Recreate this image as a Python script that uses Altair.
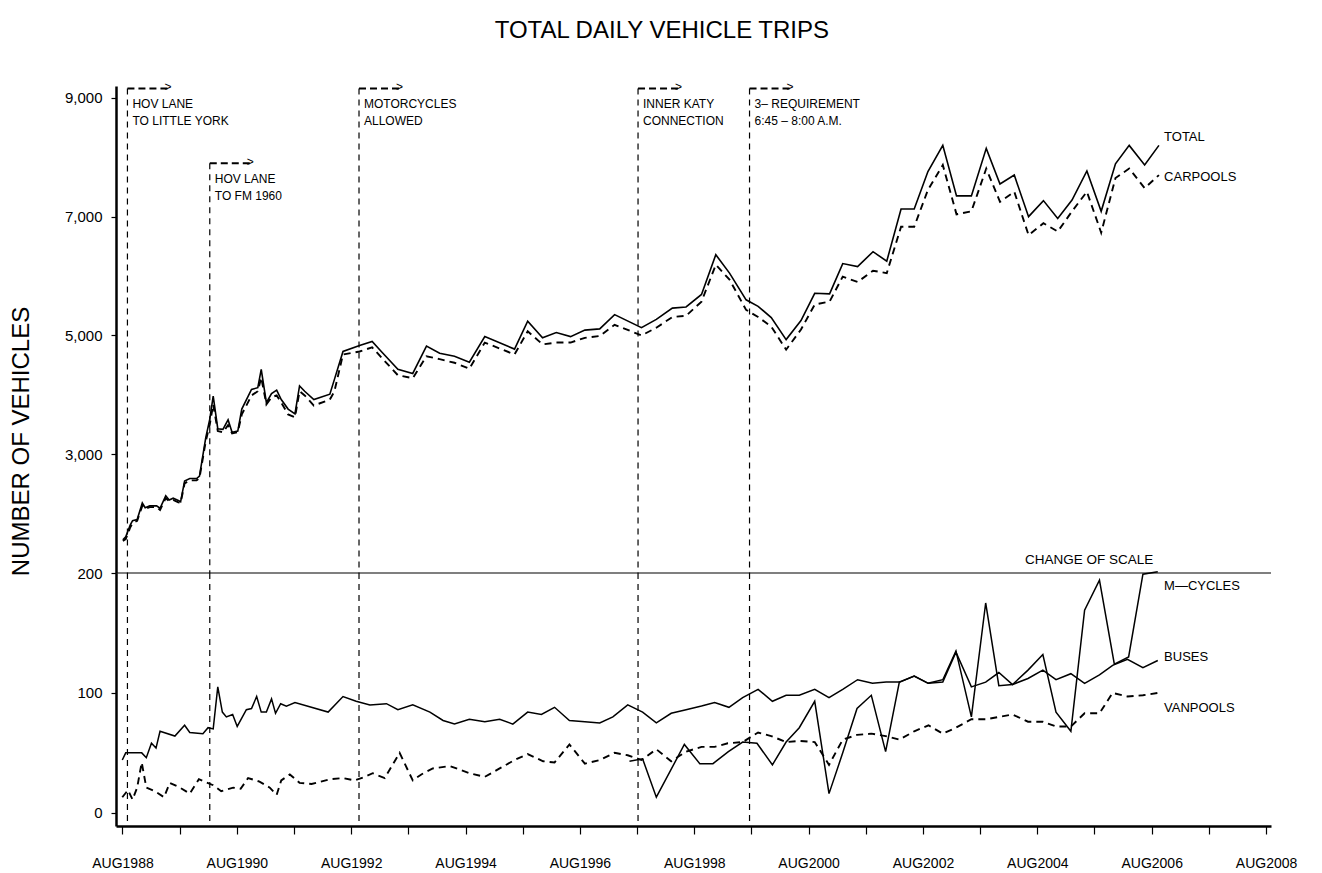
import altair as alt
import pandas as pd

FONT = "Liberation Sans"

# ---------------- data ----------------
# upper panel: decimal year, TOTAL and CARPOOLS (vehicles)
upper_dates = [1988.59, 1988.64, 1988.72, 1988.76, 1988.84, 1988.93, 1988.98, 1989.06, 1989.18, 1989.24,
               1989.34, 1989.40, 1989.47, 1989.56, 1989.60, 1989.67, 1989.76, 1989.88, 1989.93, 1990.04,
               1990.11, 1990.17, 1990.25, 1990.34, 1990.43, 1990.50, 1990.60, 1990.67, 1990.84, 1990.95,
               1991.01, 1991.10, 1991.19, 1991.28, 1991.36, 1991.48, 1991.60, 1991.68, 1991.77, 1991.93,
               1992.21, 1992.29, 1992.44, 1992.73, 1992.95, 1993.11, 1993.40, 1993.66, 1993.90, 1994.13,
               1994.39, 1994.65, 1994.92, 1995.44, 1995.67, 1995.93, 1996.17, 1996.42, 1996.67, 1996.93,
               1997.19, 1997.66, 1997.92, 1998.20, 1998.44, 1998.71, 1998.96, 1999.20, 1999.49, 1999.70,
               1999.93, 2000.19, 2000.45, 2000.69, 2000.95, 2001.18, 2001.44, 2001.71, 2001.95, 2002.20,
               2002.43, 2002.67, 2002.93, 2003.17, 2003.43, 2003.69, 2003.93, 2004.18, 2004.43, 2004.69,
               2004.94, 2005.19, 2005.45, 2005.70, 2005.95, 2006.19, 2006.46, 2006.71]
total = [1560, 1610, 1810, 1880, 1900, 2180, 2100, 2130, 2130, 2090,
         2300, 2230, 2260, 2220, 2200, 2550, 2590, 2590, 2630, 3280,
         3590, 3980, 3430, 3420, 3580, 3370, 3390, 3760, 4090, 4120,
         4430, 3870, 4020, 4080, 3920, 3760, 3680, 4150, 4060, 3920,
         4010, 4260, 4730, 4830, 4900, 4730, 4430, 4360, 4820, 4700,
         4650, 4550, 4980, 4770, 5240, 4960, 5050, 4980, 5090, 5110,
         5350, 5130, 5270, 5460, 5480, 5690, 6360, 6050, 5600, 5490,
         5300, 4930, 5250, 5710, 5700, 6210, 6160, 6410, 6250, 7130,
         7130, 7760, 8200, 7350, 7350, 8150, 7550, 7700, 7000, 7270,
         6970, 7280, 7770, 7090, 7890, 8200, 7870, 8200]
carpools = [1540, 1570, 1770, 1840, 1880, 2130, 2080, 2110, 2110, 2060,
            2260, 2210, 2230, 2190, 2180, 2510, 2560, 2560, 2600, 3220,
            3500, 3840, 3390, 3370, 3490, 3350, 3370, 3670, 3990, 4060,
            4290, 3840, 3960, 3990, 3870, 3670, 3620, 4060, 3990, 3820,
            3920, 4060, 4680, 4730, 4800, 4630, 4330, 4280, 4650, 4600,
            4540, 4440, 4880, 4680, 5070, 4850, 4880, 4880, 4960, 4990,
            5180, 5000, 5130, 5310, 5330, 5570, 6190, 5940, 5430, 5310,
            5150, 4760, 5100, 5520, 5570, 5990, 5900, 6090, 6050, 6830,
            6830, 7450, 7870, 7040, 7090, 7810, 7250, 7420, 6690, 6890,
            6750, 7090, 7420, 6730, 7650, 7810, 7480, 7700]

# lower panel
bus_dates = [1988.58, 1988.64, 1988.92, 1989.00, 1989.09, 1989.17, 1989.24, 1989.50, 1989.67, 1989.76,
             1989.99, 1990.08, 1990.17, 1990.25, 1990.33, 1990.40, 1990.51, 1990.59, 1990.75, 1990.84,
             1990.93, 1991.01, 1991.10, 1991.19, 1991.26, 1991.35, 1991.45, 1991.60, 1992.18, 1992.44,
             1992.67, 1992.91, 1993.20, 1993.40, 1993.66, 1993.96, 1994.19, 1994.39, 1994.65, 1994.92,
             1995.18, 1995.41, 1995.67, 1995.91, 1996.14, 1996.40, 1996.67, 1996.93, 1997.16, 1997.42,
             1997.68, 1997.92, 1998.18, 1998.44, 1998.71, 1998.94, 1999.19, 1999.43, 1999.70, 1999.95,
             2000.19, 2000.42, 2000.69, 2000.94, 2001.18, 2001.44, 2001.70, 2001.94, 2002.18, 2002.43,
             2002.68, 2002.93, 2003.16, 2003.43, 2003.68, 2003.91, 2004.15, 2004.42, 2004.68, 2004.91,
             2005.17, 2005.41, 2005.67, 2005.90, 2006.16, 2006.43, 2006.69]
buses = [44, 50, 50, 46, 58, 54, 68, 64, 73, 67,
         66, 71, 70, 105, 84, 80, 82, 72, 86, 87,
         97, 84, 84, 95, 83, 91, 89, 92, 84, 97,
         93, 90, 91, 86, 90, 84, 77, 74, 78, 76,
         78, 74, 84, 82, 88, 77, 76, 75, 80, 90,
         84, 75, 83, 86, 89, 92, 88, 96, 103, 93,
         98, 98, 103, 96, 103, 111, 108, 109, 109, 114,
         108, 109, 134, 105, 109, 117, 107, 112, 119, 111,
         116, 108, 115, 123, 128, 121, 127]

van_dates = [1988.58, 1988.68, 1988.76, 1988.84, 1988.92, 1989.00, 1989.15, 1989.31, 1989.41, 1989.59,
             1989.76, 1989.92, 1990.17, 1990.31, 1990.52, 1990.65, 1990.78, 1990.98, 1991.16, 1991.28,
             1991.36, 1991.51, 1991.68, 1991.89, 1992.21, 1992.44, 1992.64, 1992.82, 1992.96, 1993.17,
             1993.43, 1993.66, 1993.81, 1994.01, 1994.31, 1994.65, 1994.92, 1995.18, 1995.44, 1995.67,
             1995.94, 1996.14, 1996.40, 1996.67, 1996.93, 1997.19, 1997.42, 1997.66, 1997.92, 1998.18,
             1998.44, 1998.71, 1998.94, 1999.17, 1999.43, 1999.70, 1999.93, 2000.19, 2000.42, 2000.69,
             2000.94, 2001.18, 2001.43, 2001.68, 2001.93, 2002.17, 2002.43, 2002.68, 2002.93, 2003.16,
             2003.43, 2003.68, 2003.91, 2004.15, 2004.42, 2004.68, 2004.91, 2005.17, 2005.41, 2005.67,
             2005.90, 2006.16, 2006.43, 2006.69]
vanpools = [13, 19, 11, 21, 42, 21, 18, 13, 25, 21,
            16, 28, 23, 18, 21, 20, 29, 26, 21, 15,
            27, 32, 25, 24, 28, 29, 27, 30, 33, 29,
            50, 27, 32, 37, 39, 33, 30, 37, 44, 49,
            43, 42, 57, 41, 44, 50, 48, 44, 53, 43,
            51, 55, 55, 58, 59, 67, 64, 59, 60, 59,
            40, 61, 65, 66, 64, 61, 68, 73, 66, 71,
            78, 78, 80, 82, 76, 76, 72, 72, 83, 83,
            100, 97, 98, 100]

mc_dates = [1997.45, 1997.68, 1997.92, 1998.41, 1998.68, 1998.91, 1999.18, 1999.43, 1999.68, 1999.95,
            2000.19, 2000.42, 2000.69, 2000.94, 2001.18, 2001.43, 2001.68, 2001.93, 2002.17, 2002.43,
            2002.67, 2002.93, 2003.16, 2003.43, 2003.68, 2003.91, 2004.15, 2004.42, 2004.68, 2004.91,
            2005.17, 2005.41, 2005.67, 2005.93, 2006.18, 2006.43, 2006.69]
mcycles = [43, 45, 13, 57, 41, 41, 51, 59, 58, 40,
           59, 71, 93, 16, 50, 87, 98, 51, 109, 114,
           108, 111, 135, 80, 175, 106, 107, 119, 132, 84,
           68, 169, 194, 124, 130, 199, 201]

# events (vertical dashed markers)
event_dates = [1988.67, 1990.11, 1992.72, 1997.60, 1999.55]
event_top = [9160, 7900, 9160, 9160, 9160]
event_line1 = ["HOV LANE", "HOV LANE", "MOTORCYCLES", "INNER KATY", "3\u2013 REQUIREMENT"]
event_line2 = ["TO LITTLE YORK", "TO FM 1960", "ALLOWED", "CONNECTION", "6:45 \u2013 8:00 A.M."]

# series labels
upper_labels = ["TOTAL", "CARPOOLS"]
upper_label_dates = [2006.80, 2006.80]
upper_label_vals = [8340, 7660]
lower_labels = ["M\u2014CYCLES", "BUSES", "VANPOOLS"]
lower_label_dates = [2006.80, 2006.80, 2006.80]
lower_label_vals = [189, 130, 87]

x_tick_values = [1988.583 + k for k in range(21)]
X_DOMAIN = [1988.47, 2008.67]
UP_DOMAIN = [1000, 9200]
LO_DOMAIN = [-11, 200]
PANEL_W = 1155
UP_H = 487
LO_H = 253

# ---------------- frames ----------------
df_total = pd.DataFrame({"t": upper_dates, "v": total})
df_car = pd.DataFrame({"t": upper_dates, "v": carpools})
df_bus = pd.DataFrame({"t": bus_dates, "v": buses})
df_van = pd.DataFrame({"t": van_dates, "v": vanpools})
df_mc = pd.DataFrame({"t": mc_dates, "v": mcycles})
df_ev = pd.DataFrame({"t": event_dates, "top": event_top, "l1": event_line1, "l2": event_line2})
df_ulab = pd.DataFrame({"t": upper_label_dates, "v": upper_label_vals, "label": upper_labels})
df_llab = pd.DataFrame({"t": lower_label_dates, "v": lower_label_vals, "label": lower_labels})
df_scale = pd.DataFrame({"t": [2005.49], "v": [1000], "label": ["CHANGE OF SCALE"]})
df_200 = pd.DataFrame({"v": [200]})

xs = alt.Scale(domain=X_DOMAIN, nice=False, zero=False)
ys_up = alt.Scale(domain=UP_DOMAIN, nice=False, zero=False)
ys_lo = alt.Scale(domain=LO_DOMAIN, nice=False, zero=False)

y_axis_common = dict(labelFont=FONT, labelFontSize=15, labelColor="black", labelPadding=9,
                     tickSize=5, tickColor="black", tickWidth=1.2, domainColor="black",
                     domainWidth=2.5, grid=False, labelFlush=False, labelOverlap=False)

up_axis = alt.Axis(values=[3000, 5000, 7000, 9000], labelExpr="format(datum.value, ',')",
                   title="NUMBER OF VEHICLES",
                   titleFont=FONT, titleFontSize=24, titleFontWeight="normal", titleColor="black",
                   titleAngle=270, titleX=-95, titleY=355, titleAlign="center", titleBaseline="middle",
                   **y_axis_common)
lo_axis = alt.Axis(values=[0, 100, 200], labelExpr="format(datum.value, 'd')", title="",
                   **y_axis_common)

x_axis = alt.Axis(values=x_tick_values, title="",
                  labelExpr="(round(datum.value - 0.583) % 2 == 0) ? 'AUG' + round(datum.value - 0.583) : ''",
                  labelFont=FONT, labelFontSize=14, labelColor="black", labelPadding=22,
                  tickSize=8, tickColor="black", tickWidth=1.2, domainColor="black", domainWidth=2.5,
                  grid=False, labelFlush=False, labelOverlap=False)


def UX(field="t:Q"):
    return alt.X(field, scale=xs, axis=None)


def UY(field):
    return alt.Y(field, scale=ys_up, axis=up_axis)


def LX(field="t:Q"):
    return alt.X(field, scale=xs, axis=x_axis)


def LY(field):
    return alt.Y(field, scale=ys_lo, axis=lo_axis)


# ---------------- upper panel ----------------
u_total = alt.Chart(df_total).mark_line(color="black", strokeWidth=1.6).encode(x=UX(), y=UY("v:Q"))
u_car = alt.Chart(df_car).mark_line(color="black", strokeWidth=1.9, strokeDash=[7, 5]).encode(
    x=UX(), y=UY("v:Q"))
u_ev = alt.Chart(df_ev).mark_rule(color="black", strokeWidth=1.2, strokeDash=[6, 5]).encode(
    x=UX(), y=UY("top:Q"), y2=alt.datum(UP_DOMAIN[0]))
u_arrow = alt.Chart(df_ev).transform_calculate(t2="datum.t + 0.70").mark_rule(
    color="black", strokeWidth=2, strokeDash=[7, 4]).encode(x=UX(), x2="t2:Q", y=UY("top:Q"))
u_head = alt.Chart(df_ev).transform_calculate(t2="datum.t + 0.70").mark_text(
    text=">", align="left", baseline="middle", dx=-3, dy=-1, fontSize=12, font=FONT, color="black").encode(
    x=UX("t2:Q"), y=UY("top:Q"))
u_l1 = alt.Chart(df_ev).mark_text(align="left", baseline="middle", dx=5, dy=16, fontSize=12,
                                 font=FONT, color="black").encode(x=UX(), y=UY("top:Q"), text="l1:N")
u_l2 = alt.Chart(df_ev).mark_text(align="left", baseline="middle", dx=5, dy=33, fontSize=12,
                                 font=FONT, color="black").encode(x=UX(), y=UY("top:Q"), text="l2:N")
u_lab = alt.Chart(df_ulab).mark_text(align="left", baseline="middle", fontSize=13, font=FONT,
                                    color="black").encode(x=UX(), y=UY("v:Q"), text="label:N")
u_scale = alt.Chart(df_scale).mark_text(align="center", baseline="alphabetic", dy=-9, fontSize=13.5,
                                       font=FONT, color="black").encode(x=UX(), y=UY("v:Q"), text="label:N")

upper = alt.layer(u_total, u_car, u_ev, u_arrow, u_head, u_l1, u_l2, u_lab, u_scale).properties(
    width=PANEL_W, height=UP_H)

# ---------------- lower panel ----------------
l_bus = alt.Chart(df_bus).mark_line(color="black", strokeWidth=1.5).encode(x=LX(), y=LY("v:Q"))
l_van = alt.Chart(df_van).mark_line(color="black", strokeWidth=1.9, strokeDash=[7, 5]).encode(
    x=LX(), y=LY("v:Q"))
l_mc = alt.Chart(df_mc).mark_line(color="black", strokeWidth=1.5).encode(x=LX(), y=LY("v:Q"))
l_200 = alt.Chart(df_200).mark_rule(color="black", strokeWidth=1.2).encode(y=LY("v:Q"))
l_ev = alt.Chart(df_ev).mark_rule(color="black", strokeWidth=1.2, strokeDash=[6, 5]).encode(x=LX())
l_lab = alt.Chart(df_llab).mark_text(align="left", baseline="middle", fontSize=13, font=FONT,
                                    color="black").encode(x=LX(), y=LY("v:Q"), text="label:N")

lower = alt.layer(l_200, l_ev, l_bus, l_van, l_mc, l_lab).properties(width=PANEL_W, height=LO_H)

chart = alt.vconcat(upper, lower, spacing=0, bounds="flush").resolve_scale(
    y="independent").properties(
    title=alt.TitleParams("TOTAL DAILY VEHICLE TRIPS", font=FONT, fontSize=24, fontWeight="normal",
                          color="black", anchor="middle", offset=38, dx=9),
    padding={"left": 0, "top": 10, "right": 5, "bottom": 0},
).configure_view(stroke="transparent")

chart.save("out.html", embed_options={"renderer": "svg", "actions": False})
